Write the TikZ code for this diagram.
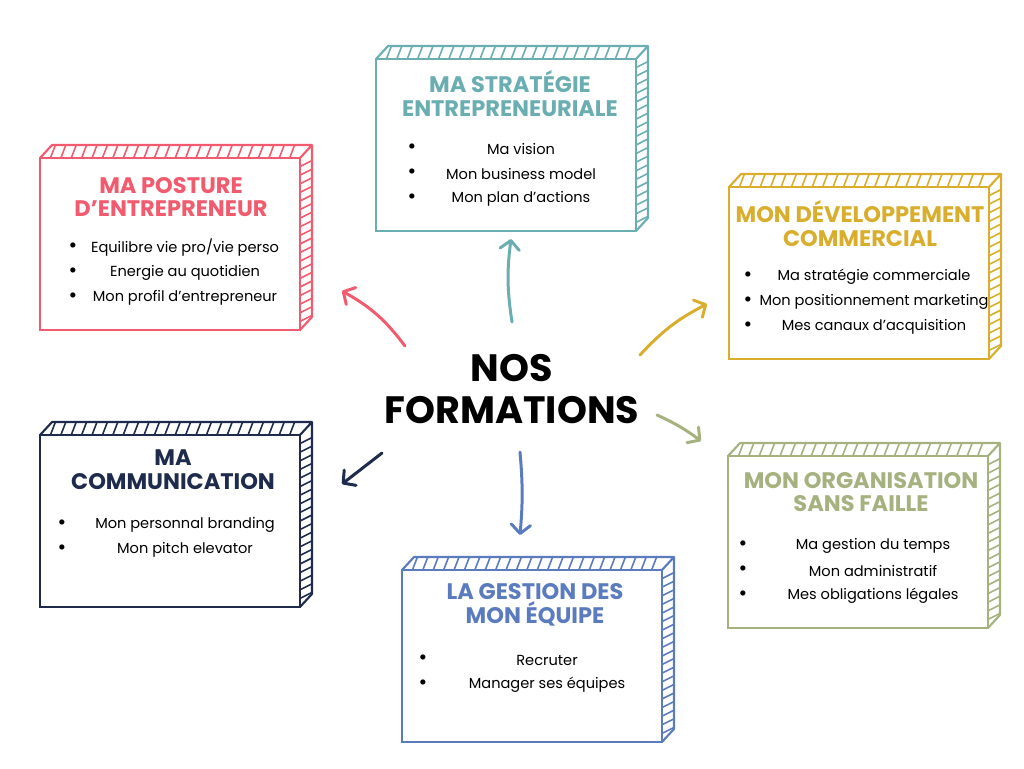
\documentclass[tikz,border=0pt]{standalone}
\usepackage{fontspec}
\setmainfont{Poppins}
\usetikzlibrary{arrows.meta,calc}

\definecolor{rose}{RGB}{242,90,110}
\definecolor{canard}{RGB}{106,174,178}
\definecolor{moutarde}{RGB}{216,174,44}
\definecolor{sauge}{RGB}{165,178,127}
\definecolor{marine}{RGB}{30,43,77}
\definecolor{bleu}{RGB}{91,123,191}

% relief hachure d'une boite
\newcommand{\relief}[2]{%
  \draw[#2, line width=1.2pt, line join=round]
    (#1.north west) -- ++(12,-13) -- ([shift={(12,-13)}]#1.north east)
    -- ([shift={(12,-13)}]#1.south east) -- (#1.south east)
    (#1.north east) -- ++(12,-13);
  \foreach \k in {0.04,0.08,...,0.97}
    \draw[#2, line width=0.9pt] ($(#1.north west)!\k!(#1.north east)$) -- ++(5,-13);
  \foreach \k in {0.05,0.1,...,0.96}
    \draw[#2, line width=0.9pt] ($(#1.north east)!\k!(#1.south east)$) -- ++(12,-6);
}
% liste a puces
\newcommand{\liste}[3]{%
  \foreach \t [count=\i from 0] in {#3}{
    \node[puce] (#1-p\i) at ([shift={(#2,90+25*\i)}]#1.north west) {\textbullet};
    \node[ligne] (#1-t\i) at ([shift={(145,90+25*\i)}]#1.north west) {\t};
  }
}

\begin{document}
\begin{tikzpicture}[x=0.02cm,y=-0.02cm,
  boite/.style={draw=#1, line width=1.2pt, fill=white, minimum width=5.2cm, minimum height=3.44cm, inner sep=0pt, outer sep=0pt},
  entete/.style={text=#1, font=\fontsize{12.8}{13.6}\selectfont\bfseries, align=center},
  ligne/.style={font=\fontsize{8.3}{10}\selectfont, inner sep=0pt},
  puce/.style={font=\fontsize{12}{12}\selectfont, inner sep=0pt},
  titre/.style={font=\fontsize{21.7}{23.8}\selectfont\bfseries, align=center},
  fleche/.style={draw=#1, line width=1.7pt, line cap=round, -{Straight Barb[length=5pt,width=11pt,round]}}]
\useasboundingbox (0,0) rectangle (1024,768);

\node[titre] (centre) at (512,389) {NOS\\FORMATIONS};

% boites
\node[boite=rose] (posture) at (170,244) {};
\node[boite=canard] (strategie) at (506,145) {};
\node[boite=moutarde] (commercial) at (859,273) {};
\node[boite=sauge] (organisation) at (858,542) {};
\node[boite=marine] (communication) at (170,521) {};
\node[boite=bleu] (equipe) at (532,656) {};
\relief{posture}{rose}
\relief{strategie}{canard}
\relief{commercial}{moutarde}
\relief{organisation}{sauge}
\relief{communication}{marine}
\relief{equipe}{bleu}

\node[entete=rose] (posture-h) at ([shift={(1,39)}]posture.north) {MA POSTURE\\D’ENTREPRENEUR};
\node[entete=canard] (strategie-h) at ([shift={(4,35)}]strategie.north) {MA STRATÉGIE\\ENTREPRENEURIALE};
\node[entete=moutarde] (commercial-h) at ([shift={(1,37)}]commercial.north) {MON DÉVELOPPEMENT\\COMMERCIAL};
\node[entete=sauge] (organisation-h) at ([shift={(3,36)}]organisation.north) {MON ORGANISATION\\SANS FAILLE};
\node[entete=marine] (communication-h) at ([shift={(3,35)}]communication.north) {MA\\COMMUNICATION};
\node[entete=bleu] (equipe-h) at ([shift={(3,35)}]equipe.north) {LA GESTION DES\\MON ÉQUIPE};

\liste{posture}{33}{Equilibre vie pro/vie perso, Energie au quotidien, Mon profil d’entrepreneur}
\liste{strategie}{36}{Ma vision, Mon business model, Mon plan d’actions}
\liste{commercial}{19}{Ma stratégie commerciale, Mon positionnement marketing, Mes canaux d’acquisition}
\liste{organisation}{15}{Ma gestion du temps, Mon administratif, Mes obligations légales}
\liste{communication}{22}{Mon personnal branding, Mon pitch elevator}
\liste{equipe}{21}{Recruter, Manager ses équipes}

% fleches
\coordinate (d1) at (405,346); \coordinate (f1) at (342,291);
\coordinate (d2) at (512,322); \coordinate (f2) at (511,239);
\coordinate (d3) at (640,355); \coordinate (f3) at (707,304);
\coordinate (d4) at (657,415); \coordinate (f4) at (701,441);
\coordinate (d5) at (382,453); \coordinate (f5) at (342,484);
\coordinate (d6) at (520,452); \coordinate (f6) at (520,535);
\draw[fleche=rose] (d1) to[bend right=12] (f1);
\draw[fleche=canard] (d2) to[bend left=8] (f2);
\draw[fleche=moutarde] (d3) to[bend left=10] (f3);
\draw[fleche=sauge] (d4) to[bend left=6] (f4);
\draw[fleche=marine] (d5) -- (f5);
\draw[fleche=bleu] (d6) to[bend left=5] (f6);
\end{tikzpicture}
\end{document}
